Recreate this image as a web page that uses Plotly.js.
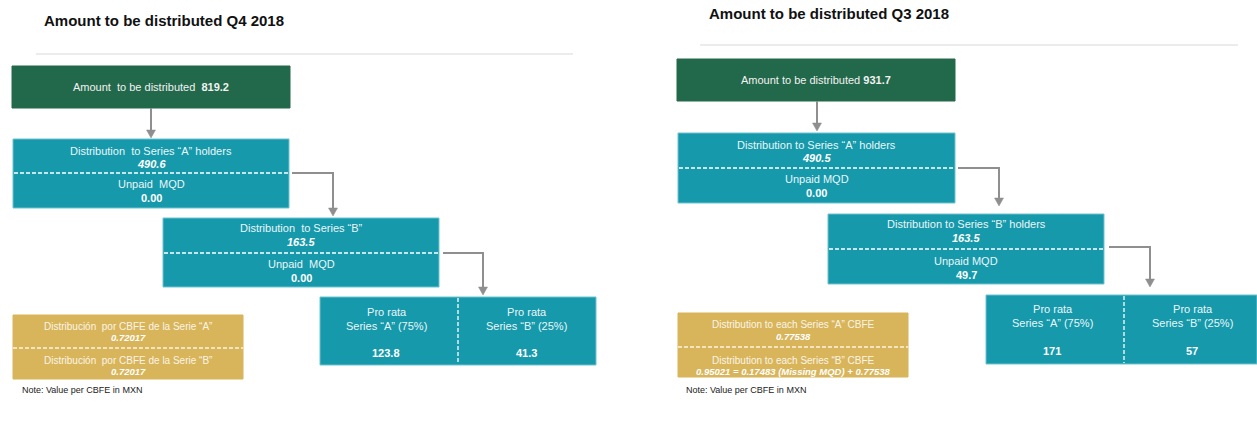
<!DOCTYPE html>
<html>
<head>
<meta charset="utf-8">
<script src="https://cdn.plot.ly/plotly-3.0.1.min.js"></script>
<style>html,body{margin:0;padding:0;background:#fff;}#chart{width:1257px;height:430px;}</style>
</head>
<body>
<div id="chart"></div>
<script>
// ---- data ----
const panelTitles = ["Amount to be distributed Q4 2018", "Amount to be distributed Q3 2018"];
const totalLabel = ["Amount&nbsp; to be distributed&nbsp; ", "Amount to be distributed "];
const totalAmount = ["819.2", "931.7"];
const seriesALabel = ["Distribution&nbsp; to Series “A” holders", "Distribution to Series “A” holders"];
const seriesADist = ["490.6", "490.5"];
const unpaidLabel = ["Unpaid&nbsp; MQD", "Unpaid MQD"];
const seriesAUnpaid = ["0.00", "0.00"];
const seriesBLabel = ["Distribution&nbsp; to Series “B”", "Distribution to Series “B” holders"];
const seriesBDist = ["163.5", "163.5"];
const seriesBUnpaid = ["0.00", "49.7"];
const proRataLabelA = ["Pro rata<br>Series “A” (75%)", "Pro rata<br>Series “A” (75%)"];
const proRataLabelB = ["Pro rata<br>Series “B” (25%)", "Pro rata<br>Series “B” (25%)"];
const proRataA = ["123.8", "171"];
const proRataB = ["41.3", "57"];
const cbfeALabel = ["Distribución&nbsp; por CBFE de la Serie “A”", "Distribution to each Series “A” CBFE"];
const cbfeAValue = ["0.72017", "0.77538"];
const cbfeBLabel = ["Distribución&nbsp; por CBFE de la Serie “B”", "Distribution to each Series “B” CBFE"];
const cbfeBValue = ["0.72017", "0.95021 = 0.17483 (Missing MQD) + 0.77538"];
const noteText = ["Note: Value per CBFE in MXN", "Note: Value per CBFE in MXN"];

// ---- geometry (layout only) ----
const geo = [
  {title:[42,20], rule:[36,573,54], green:[12,290,66,108], arrow:[151,108,138],
   tA:[13,289,139,208,173], tAy:[151,164,184,198], c1:[292,173,333,216],
   tB:[163,439,218,287,253], tBy:[228,242,264,278], c2:[443,253,483,295],
   pro:[320,596,297,365,458], proY:[312,325,353], proX:[386,526],
   gold:[13,243,315,379,348], goldY:[326,337,360,371], note:[20,390]},
  {title:[707,13], rule:[700,1238,45], green:[677,955,59,101], arrow:[817,101,131],
   tA:[678,955,133,203,168], tAy:[145,158,179,193], c1:[958,168,999,206],
   tB:[828,1104,214,284,249], tBy:[224,238,261,275], c2:[1109,247,1150,287],
   pro:[986,1257,295,364,1124], proY:[309,323,351], proX:[1052,1192],
   gold:[678,908,313,377,347], goldY:[324,336,360,371], note:[684,390]}
];

const GREEN = "#22684a", TEAL = "#1599ab", GOLD = "#d8b45a", ARROW = "#8f8f8f";
const FONT = "Liberation Sans, Arial, sans-serif";
const DASH = "4px,2px";
const shapes = [], annotations = [];

function rect(x0,x1,y0,y1,fill,edge){
  shapes.push({type:"rect",xref:"x",yref:"y",x0,x1,y0,y1,fillcolor:fill,line:{color:edge||fill,width:1},layer:"below"});
}
function hline(x0,x1,y,color,width,dash){
  shapes.push({type:"line",xref:"x",yref:"y",x0,x1,y0:y,y1:y,line:{color,width,dash:dash||"solid"}});
}
function vline(x,y0,y1,color,width,dash){
  shapes.push({type:"line",xref:"x",yref:"y",x0:x,x1:x,y0,y1,line:{color,width,dash:dash||"solid"}});
}
function arrowHead(x,y){
  shapes.push({type:"path",xref:"x",yref:"y",path:`M ${x-4.5} ${y-8} L ${x+4.5} ${y-8} L ${x} ${y} Z`,fillcolor:ARROW,line:{color:ARROW,width:0.5}});
}
function txt(x,y,text,size,color,anchor){
  annotations.push({xref:"x",yref:"y",x,y,text,showarrow:false,xanchor:anchor||"center",yanchor:"middle",
    font:{family:FONT,size,color}});
}

for (let i=0;i<2;i++){
  const g = geo[i];
  // title + rule
  annotations.push({xref:"x",yref:"y",x:g.title[0],y:g.title[1],text:"<b>"+panelTitles[i]+"</b>",showarrow:false,
    xanchor:"left",yanchor:"middle",font:{family:FONT,size:15,color:"#111"}});
  hline(g.rule[0],g.rule[1],g.rule[2],"#e6e6e6",1.5);
  // green total box
  rect(g.green[0],g.green[1],g.green[2],g.green[3],GREEN);
  txt((g.green[0]+g.green[1])/2,(g.green[2]+g.green[3])/2,totalLabel[i]+"<b>"+totalAmount[i]+"</b>",11,"#f2f2f2");
  // arrow green -> A
  vline(g.arrow[0],g.arrow[1],g.arrow[2]-6,ARROW,2);
  arrowHead(g.arrow[0],g.arrow[2]);
  // teal A box
  rect(g.tA[0],g.tA[1],g.tA[2],g.tA[3],TEAL,"#6fc3cf");
  hline(g.tA[0]+1,g.tA[1]-1,g.tA[4],"#ffffff",1.3,DASH);
  const cxA=(g.tA[0]+g.tA[1])/2;
  txt(cxA,g.tAy[0],seriesALabel[i],11,"#eaf6f8");
  txt(cxA,g.tAy[1],"<b><i>"+seriesADist[i]+"</i></b>",11,"#ffffff");
  txt(cxA,g.tAy[2],unpaidLabel[i],11,"#eaf6f8");
  txt(cxA,g.tAy[3],"<b>"+seriesAUnpaid[i]+"</b>",11,"#ffffff");
  // connector A -> B
  hline(g.c1[0],g.c1[2],g.c1[1],ARROW,2);
  vline(g.c1[2],g.c1[1]-1,g.c1[3]-6,ARROW,2);
  arrowHead(g.c1[2],g.c1[3]);
  // teal B box
  rect(g.tB[0],g.tB[1],g.tB[2],g.tB[3],TEAL,"#6fc3cf");
  hline(g.tB[0]+1,g.tB[1]-1,g.tB[4],"#ffffff",1.3,DASH);
  const cxB=(g.tB[0]+g.tB[1])/2;
  txt(cxB,g.tBy[0],seriesBLabel[i],11,"#eaf6f8");
  txt(cxB,g.tBy[1],"<b><i>"+seriesBDist[i]+"</i></b>",11,"#ffffff");
  txt(cxB,g.tBy[2],unpaidLabel[i],11,"#eaf6f8");
  txt(cxB,g.tBy[3],"<b>"+seriesBUnpaid[i]+"</b>",11,"#ffffff");
  // connector B -> pro rata
  hline(g.c2[0],g.c2[2],g.c2[1],ARROW,2);
  vline(g.c2[2],g.c2[1]-1,g.c2[3]-6,ARROW,2);
  arrowHead(g.c2[2],g.c2[3]);
  // pro rata box
  rect(g.pro[0],g.pro[1],g.pro[2],g.pro[3],TEAL,"#6fc3cf");
  vline(g.pro[4],g.pro[2]+1,g.pro[3]-1,"#ffffff",1.3,DASH);
  txt(g.proX[0],(g.proY[0]+g.proY[1])/2,proRataLabelA[i],11,"#eaf6f8");
  txt(g.proX[1],(g.proY[0]+g.proY[1])/2,proRataLabelB[i],11,"#eaf6f8");
  txt(g.proX[0],g.proY[2],"<b>"+proRataA[i]+"</b>",11,"#ffffff");
  txt(g.proX[1],g.proY[2],"<b>"+proRataB[i]+"</b>",11,"#ffffff");
  // gold box
  rect(g.gold[0],g.gold[1],g.gold[2],g.gold[3],GOLD);
  hline(g.gold[0],g.gold[1],g.gold[4],"#fbf3de",1.3,DASH);
  const cxG=(g.gold[0]+g.gold[1])/2;
  txt(cxG,g.goldY[0],cbfeALabel[i],10,"#fbf5e6");
  txt(cxG,g.goldY[1],"<b><i>"+cbfeAValue[i]+"</i></b>",9.5,"#ffffff");
  txt(cxG,g.goldY[2],cbfeBLabel[i],10,"#fbf5e6");
  txt(cxG,g.goldY[3],"<b><i>"+cbfeBValue[i]+"</i></b>",9.5,"#ffffff");
  // note
  txt(g.note[0],g.note[1],noteText[i],9,"#222","left");
}

const layout = {
  width:1257, height:430,
  margin:{l:0,r:0,t:0,b:0},
  paper_bgcolor:"#ffffff", plot_bgcolor:"#ffffff",
  xaxis:{range:[0,1257],visible:false,fixedrange:true},
  yaxis:{range:[430,0],visible:false,fixedrange:true},
  showlegend:false,
  shapes, annotations
};
Plotly.newPlot("chart", [], layout, {displayModeBar:false, staticPlot:true});
</script>
</body>
</html>
